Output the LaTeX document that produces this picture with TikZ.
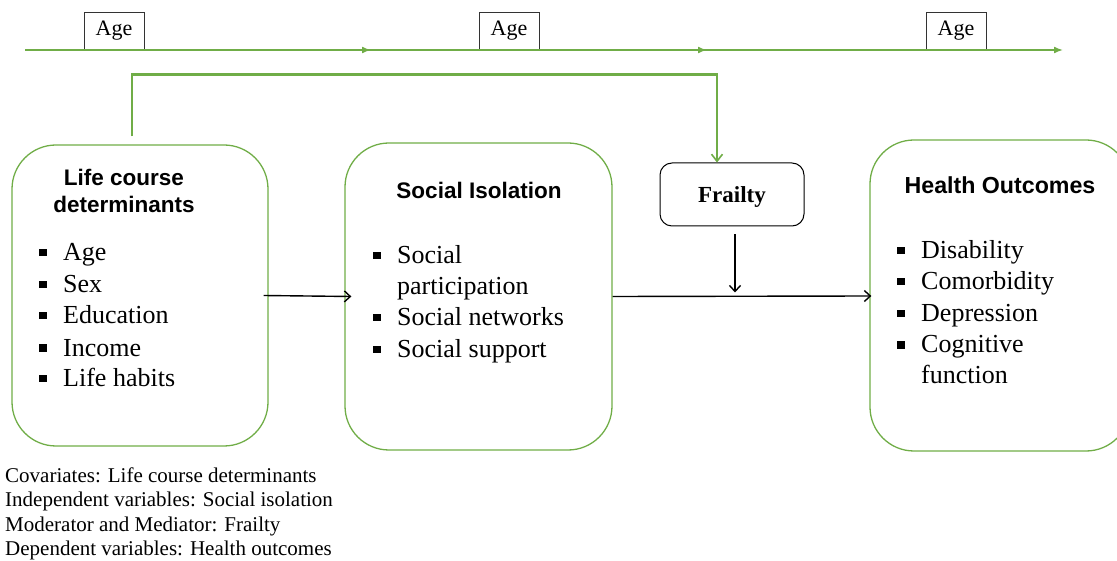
\documentclass[tikz,border=0pt]{standalone}
\usepackage{fontspec}
\setmainfont{Liberation Serif}
\newfontfamily\headfont{Liberation Sans}
\usetikzlibrary{arrows.meta}
\definecolor{leaf}{RGB}{112,173,71}
\newcommand{\sqbullet}{\makebox[24pt][l]{\raisebox{4.5pt}{\rule{7.5pt}{7.5pt}}}}

\begin{document}
\begin{tikzpicture}[x=1pt,y=-1pt,
  greenbox/.style={draw=leaf, line width=1.3pt, rounded corners=44pt, inner sep=0pt},
  agebox/.style={draw=black!80, line width=0.9pt, minimum width=60pt, minimum height=38pt,
    inner sep=0pt, font=\fontsize{22}{24}\selectfont},
  modbox/.style={draw=black, line width=1pt, rounded corners=12pt, minimum width=144pt,
    minimum height=63pt, inner sep=0pt},
  modlabel/.style={inner sep=0pt, font=\fontsize{23}{24}\selectfont\bfseries},
  head/.style={align=center, inner sep=0pt, font=\headfont\bfseries\fontsize{22.5}{27}\selectfont},
  item/.style={anchor=base west, inner sep=0pt, font=\fontsize{26}{31}\selectfont},
  timeline/.style={draw=leaf, line width=1.6pt, -{Latex[length=9pt,width=7pt]}},
  elbow/.style={draw=leaf, line width=2.6pt, -{Straight Barb[length=7pt,width=11pt,line width=1.6pt]}},
  flow/.style={draw=black, line width=1.4pt, -{Straight Barb[length=6pt,width=11pt]}},
]
\useasboundingbox (0,0) rectangle (1117,561);

% age time line
\coordinate (t0) at (25,50);
\coordinate (t1) at (371,50);
\coordinate (t1s) at (340,50);
\coordinate (t2) at (707,50);
\coordinate (t2s) at (680,50);
\coordinate (t3) at (1063,50);
\node[agebox] (age1) at (114,31) {Age};
\node[agebox] (age2) at (509,31) {Age};
\node[agebox] (age3) at (956,31) {Age};
\draw[timeline] (t0) -- (t1);
\draw[timeline] (t1s) -- (t2);
\draw[timeline] (t2s) -- (t3);

% main boxes
\node[greenbox, minimum width=256pt, minimum height=301pt] (lc) at (140,295.5) {};
\node[greenbox, minimum width=267pt, minimum height=307pt] (si) at (478.5,296.5) {};
\node[greenbox, minimum width=260pt, minimum height=311pt] (ho) at (1000,295.5) {};
\node[modbox] (fr) at (732,194.5) {};
\node[modlabel, anchor=base] (frl) at (732,203) {Frailty};

% headings
\node[head] (lch) at (124,190.5) {Life course\\determinants};
\node[head] (sih) at (479,190) {Social Isolation};
\node[head, font=\headfont\bfseries\fontsize{23.2}{27}\selectfont] (hoh) at (1000,185) {Health Outcomes};

% life course determinants
\node[item] (lc1) at (39,261) {\sqbullet Age};
\node[item] (lc2) at (39,293) {\sqbullet Sex};
\node[item] (lc3) at (39,324) {\sqbullet Education};
\node[item] (lc4) at (39,356) {\sqbullet Income};
\node[item] (lc5) at (39,387) {\sqbullet Life habits};

% social isolation
\node[item] (si1) at (373,264) {\sqbullet Social};
\node[item] (si2) at (373,295) {\hspace{24pt}participation};
\node[item] (si3) at (373,326) {\sqbullet Social networks};
\node[item] (si4) at (373,358) {\sqbullet Social support};

% health outcomes
\node[item] (ho1) at (897,259) {\sqbullet Disability};
\node[item] (ho2) at (897,290) {\sqbullet Comorbidity};
\node[item] (ho3) at (897,322) {\sqbullet Depression};
\node[item] (ho4) at (897,353) {\sqbullet Cognitive};
\node[item] (ho5) at (897,384) {\hspace{24pt}function};

% connectors
\draw[elbow] ([shift={(-8,-8)}]lc.north) |- ([shift={(-15,-88)}]fr.north) -- ([xshift=-15pt]fr.north);
\draw[flow] ([xshift=-5pt]lc.east) -- ([xshift=7pt]si.west);
\draw[flow] (si.east) -- ([shift={(2,0.5)}]ho.west);
\draw[flow] ([shift={(3,8)}]fr.south) -- ([shift={(3,66)}]fr.south);

% legend
\node[anchor=north west, align=left, inner sep=0pt, font=\fontsize{21}{24.4}\selectfont] (legend) at (5,467.5)
  {Covariates: Life course determinants\\
   Independent variables: Social isolation\\
   Moderator and Mediator: Frailty\\
   Dependent variables: Health outcomes};
\end{tikzpicture}
\end{document}
